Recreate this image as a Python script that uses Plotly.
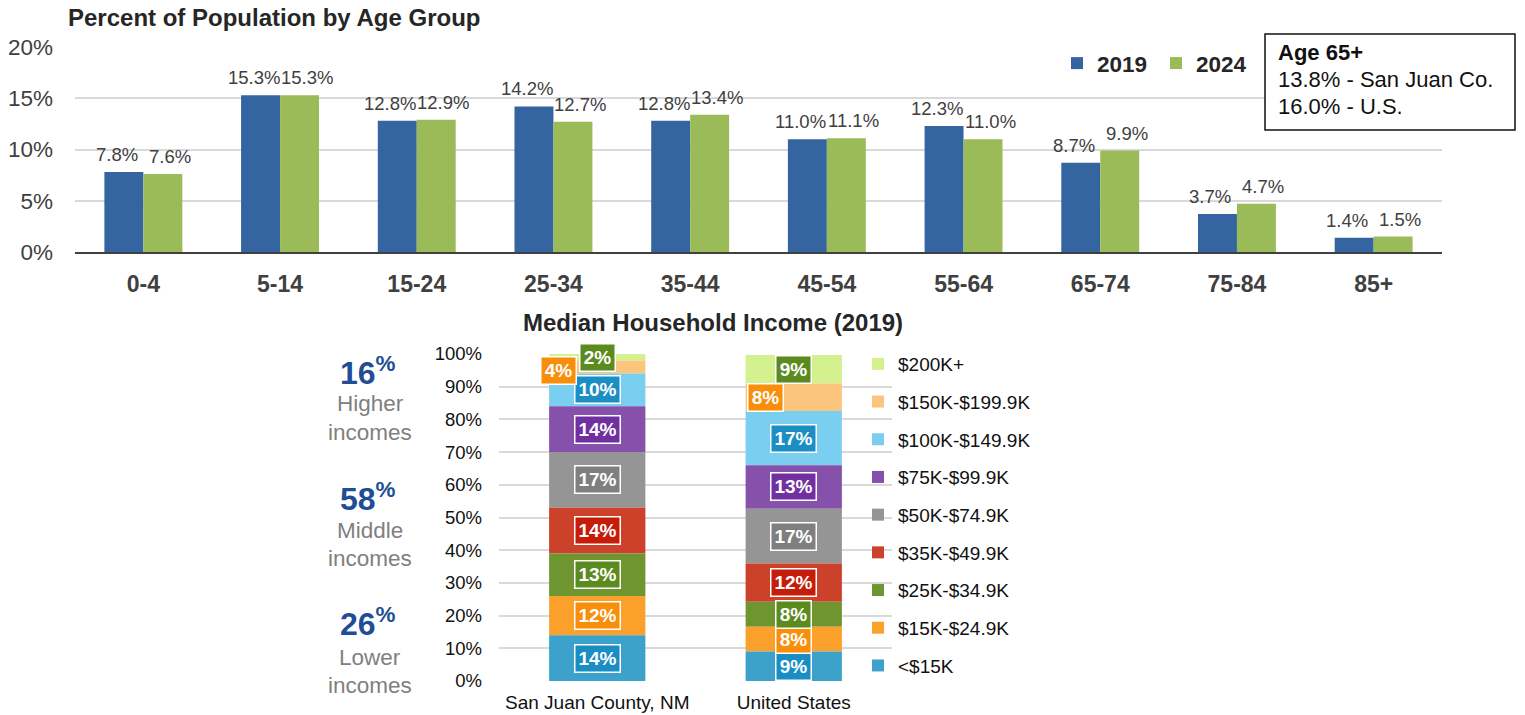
import plotly.graph_objects as go
import numpy as np

# ---------------- data ----------------
age_groups = ["0-4", "5-14", "15-24", "25-34", "35-44", "45-54", "55-64", "65-74", "75-84", "85+"]
pct_2019 = [7.8, 15.3, 12.8, 14.2, 12.8, 11.0, 12.3, 8.7, 3.7, 1.4]
pct_2024 = [7.6, 15.3, 12.9, 12.7, 13.4, 11.1, 11.0, 9.9, 4.7, 1.5]
year_names = ["2019", "2024"]

places = ["San Juan County, NM", "United States"]
income_bands = ["<$15K", "$15K-$24.9K", "$25K-$34.9K", "$35K-$49.9K", "$50K-$74.9K",
                "$75K-$99.9K", "$100K-$149.9K", "$150K-$199.9K", "$200K+"]
san_juan_income = [14, 12, 13, 14, 17, 14, 10, 4, 2]
us_income = [9.0, 7.6, 7.6, 11.7, 16.8, 13.3, 16.6, 8.4, 8.7]

income_group_pct = [16, 58, 26]
income_group_words = [["Higher", "incomes"], ["Middle", "incomes"], ["Lower", "incomes"]]

age65_title = "Age 65+"
age65_lines = ["13.8% - San Juan Co.", "16.0% - U.S."]

# ---------------- styles ----------------
BODY = 0                       # page margin removed by post_script below
W, H = 1525, 715
FONT = "Liberation Sans, Arial, sans-serif"
DARK = "#404040"
GRID = "#D9D9D9"
year_colors = ["#3465A0", "#9BBB59"]
band_colors = ["#3CA2CC", "#FBA12B", "#6F9531", "#CB4129", "#959595",
               "#8551AB", "#7ACFF0", "#FCC57D", "#D3F18F"]
box_colors = ["#1A8DC3", "#F98E0A", "#5B8A1E", "#C51D0A", "#7F7F7F",
              "#7030A0", "#1B8FC4", "#F98E0A", "#5B8A1E"]


def px_x(p):
    return (p - BODY) / W


def px_y(p):
    return 1 - (p - BODY) / H


fig = go.Figure()
annotations = []
shapes = []

# ---------------- top chart ----------------
bw = 0.285
for name, vals, col, off, sgn in zip(year_names, [pct_2019, pct_2024], year_colors,
                                     [-bw, 0.0], [-1, 1]):
    fig.add_trace(go.Bar(
        x=age_groups, y=vals, name=name, marker=dict(color=col, line=dict(width=0)),
        width=bw, offset=off, xaxis="x", yaxis="y", legend="legend", hoverinfo="skip",
    ))
    for i, v in enumerate(vals):
        annotations.append(dict(
            x=i + sgn * bw / 2, y=v, xref="x", yref="y", xanchor="center", yanchor="bottom",
            showarrow=False, text=f"{v:.1f}%", xshift=sgn * 7, yshift=5,
            font=dict(size=18.5, color=DARK, family=FONT),
        ))

# ---------------- bottom chart ----------------
cum_sj = np.concatenate([[0], np.cumsum(san_juan_income)[:-1]])
cum_us = np.concatenate([[0], np.cumsum(us_income)[:-1]])
for i in reversed(range(len(income_bands))):
    fig.add_trace(go.Bar(
        x=places, y=[san_juan_income[i], us_income[i]], base=[cum_sj[i], cum_us[i]],
        name=income_bands[i], marker=dict(color=band_colors[i], line=dict(width=0)),
        width=0.49, xaxis="x2", yaxis="y2", legend="legend2",
        legendgroup=income_bands[i], hoverinfo="skip",
    ))

# label boxes
shifts = {(0, 7): (-39, -3), (1, 7): (-28, 0)}
for p, (vals, cum) in enumerate([(san_juan_income, cum_sj), (us_income, cum_us)]):
    for i, v in enumerate(vals):
        xs, ys = shifts.get((p, i), (0, 0))
        annotations.append(dict(
            x=places[p], y=cum[i] + v / 2, xref="x2", yref="y2", showarrow=False,
            xanchor="center", yanchor="middle",
            text=f"<b>{v:.0f}%</b>", font=dict(size=19, color="white", family=FONT),
            bgcolor=box_colors[i], bordercolor="white", borderwidth=1.5, borderpad=2,
            width=40 if v >= 10 else 30, height=22, xshift=xs, yshift=ys,
        ))

# titles
annotations.append(dict(x=px_x(66), y=px_y(18), xref="paper", yref="paper", xanchor="left",
                        yanchor="middle", showarrow=False,
                        text="<b>Percent of Population by Age Group</b>",
                        font=dict(size=24, color="#262626", family=FONT)))
annotations.append(dict(x=px_x(713), y=px_y(322), xref="paper", yref="paper", xanchor="center",
                        yanchor="middle", showarrow=False,
                        text="<b>Median Household Income (2019)</b>",
                        font=dict(size=24, color="#262626", family=FONT)))

# Age 65+ box
shapes.append(dict(type="rect", xref="paper", yref="paper",
                   x0=px_x(1265), x1=px_x(1515), y0=px_y(130), y1=px_y(34),
                   line=dict(color="#111111", width=1.5), fillcolor="white", layer="above"))
for txt, yy in zip([f"<b>{age65_title}</b>"] + age65_lines, [52, 80, 107]):
    annotations.append(dict(x=px_x(1276), y=px_y(yy), xref="paper", yref="paper",
                            xanchor="left", yanchor="middle", showarrow=False, text=txt,
                            font=dict(size=22, color="#111111", family=FONT)))

# left income group labels
big_y = [371, 497, 622]
word_y = [[403, 432], [530, 558], [657, 685]]
for k in range(3):
    annotations.append(dict(x=px_x(368), y=px_y(big_y[k]), xref="paper", yref="paper",
                            xanchor="center", yanchor="middle",
                            showarrow=False, text=f"<b>{income_group_pct[k]}<sup>%</sup></b>",
                            font=dict(size=32, color="#1F4E96", family=FONT)))
    for w, yy in zip(income_group_words[k], word_y[k]):
        annotations.append(dict(x=px_x(370), y=px_y(yy), xref="paper", yref="paper",
                                xanchor="center", yanchor="middle",
                                showarrow=False, text=w,
                                font=dict(size=22.5, color="#808080", family=FONT)))

fig.update_layout(
    width=W, height=H, margin=dict(l=0, r=0, t=0, b=0, autoexpand=False),
    paper_bgcolor="white", plot_bgcolor="white", barmode="overlay",
    font=dict(family=FONT, color=DARK),
    xaxis=dict(domain=[px_x(75), px_x(1442)], showline=True, linecolor=DARK, linewidth=2,
               ticks="", tickfont=dict(size=23, color=DARK, weight="bold"),
               ticklabelstandoff=10, showgrid=False, anchor="y", fixedrange=True),
    yaxis=dict(domain=[px_y(252), px_y(47)], range=[0, 20], dtick=5, ticksuffix="%",
               showgrid=True, gridcolor=GRID, gridwidth=1.5, zeroline=False,
               tickfont=dict(size=22.5, color=DARK), ticklabelstandoff=21,
               anchor="x", fixedrange=True),
    xaxis2=dict(domain=[px_x(499), px_x(892)], showline=False, ticks="",
                tickfont=dict(size=19, color="#111111"), ticklabelstandoff=8,
                showgrid=False, anchor="y2", fixedrange=True),
    yaxis2=dict(domain=[px_y(681), px_y(354)], range=[0, 100], dtick=10, ticksuffix="%",
                showgrid=True, gridcolor=GRID, gridwidth=1.5, zeroline=False,
                tickfont=dict(size=18.5, color="#111111"), ticklabelstandoff=16,
                anchor="x2", fixedrange=True),
    legend=dict(orientation="h", x=px_x(1057), y=px_y(42), xanchor="left", yanchor="top",
                font=dict(size=22.5, color="#262626", weight="bold", family=FONT),
                entrywidth=54, entrywidthmode="pixels",
                bgcolor="rgba(0,0,0,0)", itemclick=False, itemdoubleclick=False),
    legend2=dict(orientation="v", x=px_x(858), y=px_y(345), xanchor="left", yanchor="top",
                 font=dict(size=19, color="#111111", family=FONT), traceorder="grouped",
                 tracegroupgap=10, bgcolor="rgba(0,0,0,0)", itemclick=False,
                 itemdoubleclick=False),
    annotations=annotations,
    shapes=shapes,
    showlegend=True,
)

fig.write_html(
    "out.html",
    config={"displayModeBar": False},
    post_script="document.body.style.margin='0';document.body.style.overflow='hidden';",
)
